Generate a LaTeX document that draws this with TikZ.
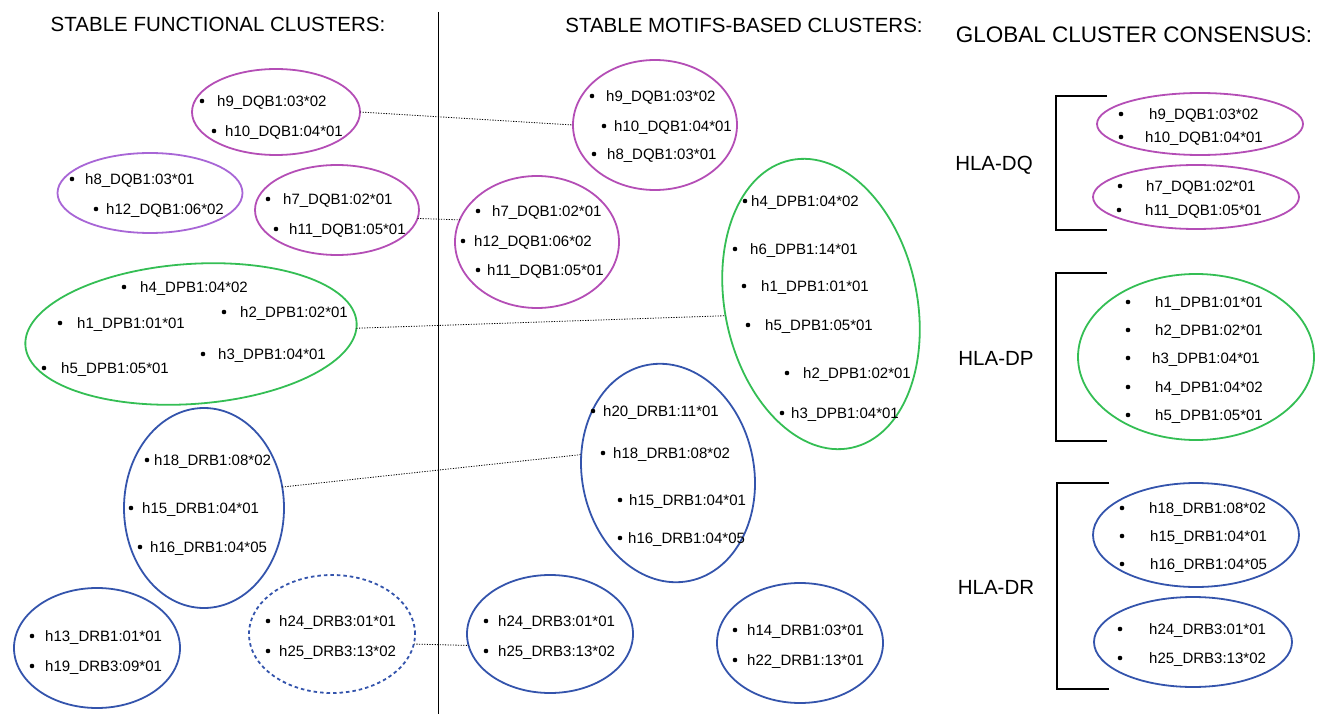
\documentclass[tikz,border=0pt]{standalone}
\usepackage{fontspec}
\setmainfont{Liberation Sans}
\usetikzlibrary{shapes.geometric}
\definecolor{cpurp}{RGB}{180,78,182}
\definecolor{cviol}{RGB}{168,102,214}
\definecolor{cgreen}{RGB}{52,190,84}
\definecolor{cblue}{RGB}{52,84,172}
\tikzset{
  ell/.style={draw, ellipse, line width=1.8pt, inner sep=0pt, outer sep=0pt},
  lbl/.style={inner sep=0pt, anchor=base west, font=\fontsize{15}{18}\selectfont},
  head/.style={inner sep=0pt, font=\fontsize{20.5}{24}\selectfont},
  conn/.style={line width=0.8pt, dash pattern=on 1.2pt off 1.4pt},
  brk/.style={line width=1.6pt},
}
\newcommand\itm[5]{\fill (#1,-#2) circle (2.3pt); \node[lbl] (#5) at (#3,-#2-5.5) {#4};}
\begin{document}
\begin{tikzpicture}[x=1pt,y=1pt]
\useasboundingbox (0,0) rectangle (1320,-714);
% headings
\node[head] (t1) at (218,-24) {STABLE FUNCTIONAL CLUSTERS:};
\node[head] (t2) at (744,-25) {STABLE MOTIFS-BASED CLUSTERS:};
\node[head, font=\fontsize{22.5}{26}\selectfont] (t3) at (1134,-35) {GLOBAL CLUSTER CONSENSUS:};
\draw[line width=1pt] (438.5,-12) -- (438.5,-714);
% left column ellipses
\node[ell, cpurp, minimum width=168pt, minimum height=86pt] (E1) at (276,-112) {};
\node[ell, cviol, minimum width=185pt, minimum height=80pt] (E2) at (150,-193) {};
\node[ell, cpurp, minimum width=164pt, minimum height=90pt] (E3) at (337,-210) {};
\node[ell, cgreen, minimum width=332pt, minimum height=140pt, rotate=4] (E4) at (191,-334) {};
\node[ell, cblue, minimum width=160pt, minimum height=200pt] (E5) at (204,-508) {};
\node[ell, cblue, minimum width=166pt, minimum height=120pt] (E6) at (97,-648) {};
\node[ell, cblue, dash pattern=on 3.5pt off 3pt, minimum width=166pt, minimum height=118pt] (E7) at (332,-634) {};
% middle column ellipses
\node[ell, cpurp, minimum width=164pt, minimum height=130pt] (M1) at (655,-125) {};
\node[ell, cpurp, minimum width=164pt, minimum height=132pt] (M2) at (537,-242) {};
\node[ell, cgreen, minimum width=192pt, minimum height=294pt, rotate=12] (M3) at (821,-304) {};
\node[ell, cblue, minimum width=172pt, minimum height=220pt, rotate=11] (M4) at (668,-473) {};
\node[ell, cblue, minimum width=166pt, minimum height=118pt] (M5) at (550,-634) {};
\node[ell, cblue, minimum width=166pt, minimum height=120pt] (M6) at (800,-643) {};
% right column ellipses
\node[ell, cpurp, minimum width=206pt, minimum height=62pt] (R1) at (1200,-124) {};
\node[ell, cpurp, minimum width=206pt, minimum height=64pt] (R2) at (1196,-197) {};
\node[ell, cgreen, minimum width=236pt, minimum height=166pt] (R3) at (1196,-357) {};
\node[ell, cblue, minimum width=206pt, minimum height=104pt] (R4) at (1196,-535) {};
\node[ell, cblue, minimum width=198pt, minimum height=90pt] (R5) at (1193,-642) {};
% connectors
\draw[conn] (E1.east) -- (M1.west);
\draw[conn] (E3.-6) -- (M2.164);
\draw[conn] (E4.-2) -- (M3.175);
\draw[conn] (E5.15) -- (M4.157);
\draw[conn] (E7.-7) -- (M5.188);
% brackets
\draw[brk] (1107,-96) -- (1056,-96) -- (1056,-230) -- (1107,-230);
\draw[brk] (1107,-273) -- (1056,-273) -- (1056,-441) -- (1107,-441);
\draw[brk] (1109,-483) -- (1057,-483) -- (1057,-689) -- (1109,-689);
\node[head] (hq) at (994,-165) {HLA-DQ};
\node[head] (hp) at (996,-358) {HLA-DP};
\node[head] (hr) at (996,-587) {HLA-DR};
% left items
\itm{202}{101}{217}{h9\_DQB1:03*02}{a1}
\itm{214}{131}{225}{h10\_DQB1:04*01}{a2}
\itm{72}{179}{85}{h8\_DQB1:03*01}{a3}
\itm{96}{209}{106}{h12\_DQB1:06*02}{a4}
\itm{268}{199}{283}{h7\_DQB1:02*01}{a5}
\itm{276}{229}{289}{h11\_DQB1:05*01}{a6}
\itm{124}{287}{140}{h4\_DPB1:04*02}{a7}
\itm{60}{323}{77}{h1\_DPB1:01*01}{a8}
\itm{224}{312}{240}{h2\_DPB1:02*01}{a9}
\itm{203}{354}{218}{h3\_DPB1:04*01}{a10}
\itm{44}{368}{61}{h5\_DPB1:05*01}{a11}
\itm{147}{460}{154}{h18\_DRB1:08*02}{a12}
\itm{131}{508}{142}{h15\_DRB1:04*01}{a13}
\itm{140}{547}{150}{h16\_DRB1:04*05}{a14}
\itm{32}{636}{45}{h13\_DRB1:01*01}{a15}
\itm{32}{666}{45}{h19\_DRB3:09*01}{a16}
\itm{268}{621}{279}{h24\_DRB3:01*01}{a17}
\itm{268}{651}{279}{h25\_DRB3:13*02}{a18}
% middle items
\itm{592}{96}{606}{h9\_DQB1:03*02}{b1}
\itm{604}{126}{614}{h10\_DQB1:04*01}{b2}
\itm{594}{154}{607}{h8\_DQB1:03*01}{b3}
\itm{478}{211}{492}{h7\_DQB1:02*01}{b4}
\itm{463}{241}{474}{h12\_DQB1:06*02}{b5}
\itm{478}{270}{487}{h11\_DQB1:05*01}{b6}
\itm{745}{201}{751}{h4\_DPB1:04*02}{b7}
\itm{735}{249}{750}{h6\_DPB1:14*01}{b8}
\itm{744}{286}{761}{h1\_DPB1:01*01}{b9}
\itm{748}{325}{765}{h5\_DPB1:05*01}{b10}
\itm{787}{373}{803}{h2\_DPB1:02*01}{b11}
\itm{782}{413}{791}{h3\_DPB1:04*01}{b12}
\itm{593}{411}{603}{h20\_DRB1:11*01}{b13}
\itm{603}{453}{613}{h18\_DRB1:08*02}{b14}
\itm{620}{500}{629}{h15\_DRB1:04*01}{b15}
\itm{620}{538}{628}{h16\_DRB1:04*05}{b16}
\itm{486}{621}{498}{h24\_DRB3:01*01}{b17}
\itm{486}{651}{498}{h25\_DRB3:13*02}{b18}
\itm{735}{630}{747}{h14\_DRB1:03*01}{b19}
\itm{735}{660}{747}{h22\_DRB1:13*01}{b20}
% right items
\itm{1121}{114}{1149}{h9\_DQB1:03*02}{c1}
\itm{1121}{137}{1145}{h10\_DQB1:04*01}{c2}
\itm{1120}{186}{1146}{h7\_DQB1:02*01}{c3}
\itm{1119}{210}{1145}{h11\_DQB1:05*01}{c4}
\itm{1128}{302}{1155}{h1\_DPB1:01*01}{c5}
\itm{1128}{330}{1155}{h2\_DPB1:02*01}{c6}
\itm{1128}{358}{1152}{h3\_DPB1:04*01}{c7}
\itm{1128}{387}{1155}{h4\_DPB1:04*02}{c8}
\itm{1128}{415}{1155}{h5\_DPB1:05*01}{c9}
\itm{1122}{508}{1149}{h18\_DRB1:08*02}{c10}
\itm{1122}{536}{1150}{h15\_DRB1:04*01}{c11}
\itm{1122}{564}{1150}{h16\_DRB1:04*05}{c12}
\itm{1120}{629}{1149}{h24\_DRB3:01*01}{c13}
\itm{1120}{658}{1149}{h25\_DRB3:13*02}{c14}
\end{tikzpicture}
\end{document}
